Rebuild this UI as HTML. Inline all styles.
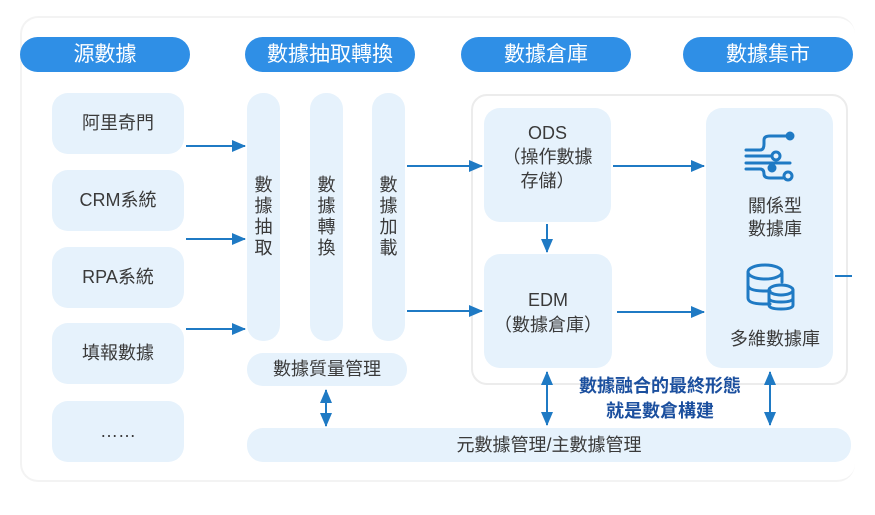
<!DOCTYPE html>
<html><head><meta charset="utf-8"><style>
body{margin:0;width:875px;height:515px;background:#fff;position:relative;overflow:hidden;font-family:"Liberation Sans","Noto Sans CJK TC",sans-serif;}
.a{position:absolute;box-sizing:border-box;}
.pill{background:#2f8fe6;color:#fff;border-radius:18px;font-size:21px;text-align:center;line-height:35px;height:35px;top:37px;width:170px;}
.box{background:#e6f2fc;border-radius:16px;color:#3a3a3a;font-size:18px;text-align:center;}
.src{left:52px;width:132px;height:61px;line-height:61px;}
.col{top:93px;width:33px;height:248px;border-radius:16px;background:#e6f2fc;font-size:18px;color:#3a3a3a;text-align:center;line-height:21px;padding-top:82px;}
</style></head><body>
<div class="a" style="left:20px;top:16px;width:835px;height:466px;border:2px solid #f3f3f3;border-radius:18px;border-right:none;"></div>
<div class="a pill" style="left:20px">源數據</div>
<div class="a pill" style="left:245px">數據抽取轉換</div>
<div class="a pill" style="left:461px">數據倉庫</div>
<div class="a pill" style="left:683px">數據集市</div>

<div class="a box src" style="top:93px">阿里奇門</div>
<div class="a box src" style="top:170px">CRM系統</div>
<div class="a box src" style="top:247px">RPA系統</div>
<div class="a box src" style="top:323px">填報數據</div>
<div class="a box src" style="top:401px">……</div>

<div class="a col" style="left:247px">數<br>據<br>抽<br>取</div>
<div class="a col" style="left:310px">數<br>據<br>轉<br>換</div>
<div class="a col" style="left:372px">數<br>據<br>加<br>載</div>

<div class="a box" style="left:247px;top:353px;width:160px;height:33px;line-height:33px;">數據質量管理</div>
<div class="a box" style="left:247px;top:428px;width:604px;height:34px;line-height:34px;">元數據管理/主數據管理</div>

<div class="a" style="left:471px;top:94px;width:377px;height:291px;border:2px solid #ececec;border-radius:16px;"></div>
<div class="a box" style="left:484px;top:108px;width:127px;height:114px;padding-top:13px;line-height:24px;">ODS<br>（操作數據<br>存儲）</div>
<div class="a box" style="left:484px;top:254px;width:128px;height:114px;padding-top:34px;line-height:25px;">EDM<br>（數據倉庫）</div>
<div class="a box" style="left:706px;top:108px;width:127px;height:260px;"></div>
<div class="a" style="left:706px;top:195px;width:138px;text-align:center;font-size:18px;color:#3a3a3a;line-height:23px;">關係型<br>數據庫</div>
<div class="a" style="left:706px;top:325px;width:138px;text-align:center;font-size:18px;color:#3a3a3a;">多維數據庫</div>

<div class="a" style="left:560px;top:374px;width:200px;text-align:center;font-size:18px;font-weight:bold;color:#1b4f9e;line-height:25px;">數據融合的最終形態<br>就是數倉構建</div>

<svg class="a" style="left:0;top:0" width="875" height="515">
<defs>
<marker id="s" markerWidth="14" markerHeight="12" refX="13" refY="6" orient="auto-start-reverse" markerUnits="userSpaceOnUse"><path d="M0,0 L14,6 L0,12z" fill="#1f7ac4"/></marker></defs>
<g stroke="#1f7ac4" stroke-width="2" fill="none">
<line x1="186" y1="146" x2="245" y2="146" marker-end="url(#s)"/>
<line x1="186" y1="239" x2="245" y2="239" marker-end="url(#s)"/>
<line x1="186" y1="329" x2="245" y2="329" marker-end="url(#s)"/>
<line x1="407" y1="166" x2="482" y2="166" marker-end="url(#s)"/>
<line x1="407" y1="311" x2="482" y2="311" marker-end="url(#s)"/>
<line x1="613" y1="166" x2="704" y2="166" marker-end="url(#s)"/>
<line x1="617" y1="312" x2="704" y2="312" marker-end="url(#s)"/>
<line x1="547" y1="224" x2="547" y2="252" marker-end="url(#s)"/>
<line x1="835" y1="276" x2="852" y2="276"/>
<line x1="326" y1="390" x2="326" y2="426" marker-start="url(#s)" marker-end="url(#s)"/>
<line x1="547" y1="372" x2="547" y2="425" marker-start="url(#s)" marker-end="url(#s)"/>
<line x1="770" y1="372" x2="770" y2="425" marker-start="url(#s)" marker-end="url(#s)"/>
</g>
<g stroke="#1f7ac4" stroke-width="3" fill="none" stroke-linecap="round">
<path d="M746,150 H760 Q764,150 764,144 V140 Q764,136 770,136 H786"/>
<circle cx="790" cy="136" r="3" fill="#1f7ac4"/>
<path d="M746,156 H772"/><circle cx="776" cy="156" r="4"/>
<path d="M746,163 H790"/><circle cx="772" cy="168" r="3" fill="#1f7ac4"/>
<path d="M746,169 H760 Q764,169 764,174 Q764,178 770,178 H783"/><circle cx="788" cy="176" r="4"/>
<ellipse cx="765" cy="272" rx="17" ry="7"/>
<path d="M748,272 V298 Q748,304 765,304 H770 M748,285 Q748,291 765,291 H770 M782,272 V282"/>
<ellipse cx="781" cy="290" rx="12" ry="5"/>
<path d="M769,290 V305 Q769,309 781,309 Q793,309 793,305 V290 M769,298 Q769,302 781,302 Q793,302 793,298"/>
</g>
</svg>
</body></html>
